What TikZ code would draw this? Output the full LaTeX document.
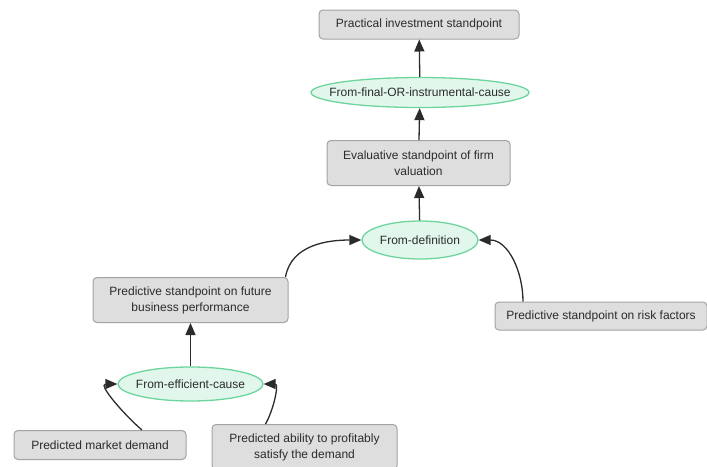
\documentclass[tikz,border=0pt]{standalone}
\usepackage{fontspec}
\setmainfont{Liberation Sans}
\usetikzlibrary{shapes.geometric,arrows.meta}
\definecolor{boxfill}{HTML}{DEDEDE}
\definecolor{boxline}{HTML}{A3A3A3}
\definecolor{ovalfill}{HTML}{E2F7EB}
\definecolor{ovalline}{HTML}{6DD49E}
\definecolor{inkgray}{HTML}{2B2B2B}
\newcommand{\ovaltext}[2]{\makebox[#1][c]{#2}}
\begin{document}
\begin{tikzpicture}[x=1pt, y=1pt,
    stand/.style={draw=boxline, fill=boxfill, rounded corners=4pt, line width=1pt,
                  align=center, inner sep=0pt, text=inkgray, font=\fontsize{12}{16}\selectfont},
    reason/.style={ellipse, draw=ovalline, fill=ovalfill, line width=1.3pt,
                   inner sep=0pt, text=inkgray, font=\fontsize{12}{16}\selectfont},
    link/.style={line width=1.3pt, draw=inkgray, -{Triangle[length=12pt,width=10pt]}}]
  \useasboundingbox (0,0) rectangle (707,-466);
  % upper chain
  \node[stand, minimum width=200pt, minimum height=29pt] (pis) at (419,-24.5) {Practical investment standpoint};
  \node[reason, minimum width=218pt, minimum height=30pt] (ffoic) at (420,-92.5) {\ovaltext{140pt}{From-final-OR-instrumental-cause}};
  \node[stand, minimum width=183pt, minimum height=45pt] (esfv) at (418.5,-163) {Evaluative standpoint of firm\\valuation};
  \node[reason, minimum width=116pt, minimum height=38pt] (fdef) at (420,-240) {\ovaltext{70pt}{From-definition}};
  % predictive standpoints
  \node[stand, minimum width=195pt, minimum height=45pt] (psfb) at (190.5,-300) {Predictive standpoint on future\\business performance};
  \node[stand, minimum width=212pt, minimum height=28pt] (psrf) at (601,-316) {Predictive standpoint on risk factors};
  \node[reason, minimum width=145pt, minimum height=34pt] (fec) at (190.5,-384) {\ovaltext{90pt}{From-efficient-cause}};
  % bottom
  \node[stand, minimum width=172pt, minimum height=29pt] (pmd) at (100,-445) {Predicted market demand};
  \node[stand, minimum width=185pt, minimum height=45pt] (papd) at (304.5,-447) {Predicted ability to profitably\\satisfy the demand};
  % links
  \draw[link] (ffoic) -- (pis);
  \draw[link] (esfv) -- (ffoic);
  \draw[link] (fdef) -- (esfv);
  \draw[link] ([xshift=-3pt]psfb.north east) to[out=80, in=180] (fdef.west);
  \draw[link] ([xshift=-78pt]psrf.north) to[out=90, in=0] (fdef.east);
  \draw[link] (fec) -- (psfb);
  \draw[link] ([xshift=42pt]pmd.north) to[out=140, in=180] (fec.west);
  \draw[link] ([xshift=-39pt]papd.north) to[out=60, in=0] (fec.east);
\end{tikzpicture}
\end{document}
